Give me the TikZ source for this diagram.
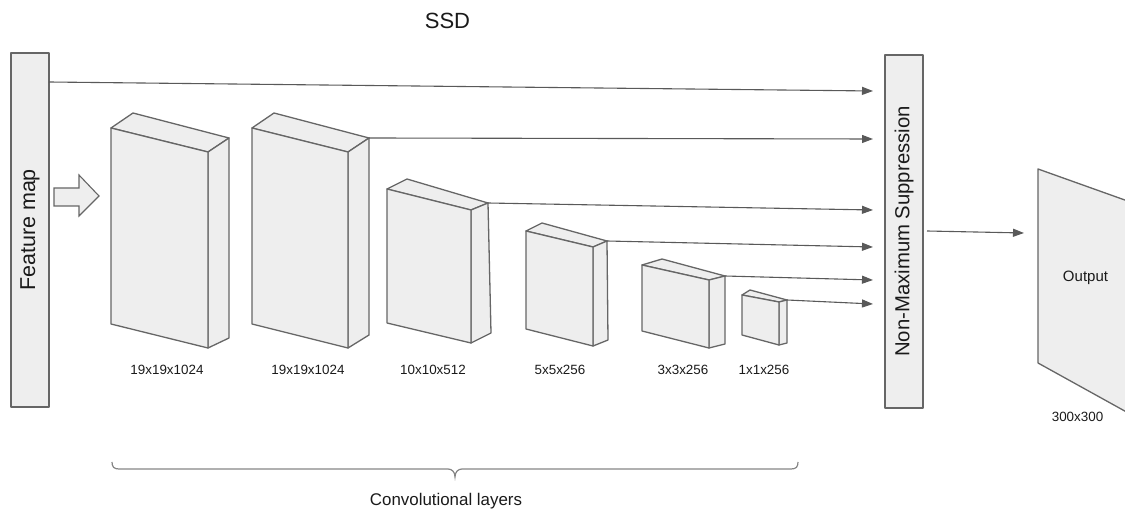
\documentclass[tikz,border=0pt]{standalone}
\usepackage{fontspec}
\setmainfont{Liberation Sans}
\usetikzlibrary{arrows.meta}

\definecolor{boxfill}{HTML}{EEEEEE}
\definecolor{boxline}{HTML}{666666}
\definecolor{wire}{HTML}{595959}
\definecolor{ink}{HTML}{1A1A1A}

\tikzset{
  panel/.style={draw=boxline, fill=boxfill, line width=1.3pt, line join=round},
  wirearrow/.style={draw=wire, line width=1.1pt, -{Triangle[length=11pt,width=8pt]}},
  blockarrow/.style={draw=boxline, fill=boxfill, line width=1.1pt, line join=miter},
  bracepath/.style={draw=boxline!80, line width=1.2pt},
  dimlabel/.style={text=ink, font=\fontsize{13.4}{15}\selectfont},
  biglabel/.style={text=ink, font=\fontsize{21.5}{24}\selectfont},
}

% cuboid: front face corners (tl,tr,br,bl), back corners (tl,tr,br)
\newcommand{\cuboid}[7]{%
  \path[panel] #5 -- #6 -- #2 -- #1 -- cycle;
  \path[panel] #2 -- #6 -- #7 -- #3 -- cycle;
  \path[panel] #1 -- #2 -- #3 -- #4 -- cycle;
}

\begin{document}
\begin{tikzpicture}[x=1pt, y=-1pt]
\useasboundingbox (0,0) rectangle (1125,510);
\clip (0,0) rectangle (1125,510);

% title
\node[text=ink, font=\fontsize{22}{26}\selectfont] (title) at (447.5,21) {SSD};

% input feature map
\node[panel, minimum width=38pt, minimum height=354pt, inner sep=0pt] (fmap) at (30,230) {};
\node[biglabel, rotate=90] (fmaptext) at (fmap.center) {Feature map};

% block arrow into the first layer
\path[blockarrow] (54,188) -- (79,188) -- (79,175) -- (99,196) -- (79,216) -- (79,206) -- (54,206) -- cycle;

% convolutional layers
\cuboid{(111,128)}{(208,152)}{(208,348)}{(111,324)}{(133,113)}{(229,138)}{(229,338)}
\cuboid{(252,128)}{(348,152)}{(348,348)}{(252,324)}{(274,113)}{(369,138)}{(369,335)}
\cuboid{(387,189)}{(471,210)}{(471,343)}{(387,323)}{(407,179)}{(488,203)}{(491,333)}
\cuboid{(526,231)}{(593,247)}{(593,346)}{(526,329)}{(542,223)}{(607,241)}{(608,340)}
\cuboid{(642,265)}{(709,280)}{(709,348)}{(642,331)}{(662,259)}{(725,276)}{(725,344)}
\cuboid{(742,295)}{(779,302)}{(779,345)}{(742,335)}{(750,290)}{(787,300)}{(787,343)}

% corners where the detection outputs leave each layer
\coordinate (f0) at (49,82);
\coordinate (c2) at (369,138);
\coordinate (c3) at (488,203);
\coordinate (c4) at (607,241);
\coordinate (c5) at (725,276);
\coordinate (c6) at (787,300);

% layer sizes
\node[dimlabel] (d1) at (167,370) {19x19x1024};
\node[dimlabel] (d2) at (308,370) {19x19x1024};
\node[dimlabel] (d3) at (433,370) {10x10x512};
\node[dimlabel] (d4) at (560,370) {5x5x256};
\node[dimlabel] (d5) at (683,370) {3x3x256};
\node[dimlabel] (d6) at (764,370) {1x1x256};

% non-maximum suppression
\node[panel, minimum width=38pt, minimum height=353pt, inner sep=0pt] (nms) at (904,231.5) {};
\node[text=ink, font=\fontsize{20.3}{24}\selectfont, rotate=90] (nmstext) at (nms.center) {Non-Maximum Suppression};

% arrow ends in front of the suppression block
\coordinate (t0) at (873,91);
\coordinate (t2) at (873,139);
\coordinate (t3) at (873,210);
\coordinate (t4) at (873,247);
\coordinate (t5) at (873,280);
\coordinate (t6) at (873,304);

\draw[wirearrow] (f0) -- (t0);
\draw[wirearrow] (c2) -- (t2);
\draw[wirearrow] (c3) -- (t3);
\draw[wirearrow] (c4) -- (t4);
\draw[wirearrow] (c5) -- (t5);
\draw[wirearrow] (c6) -- (t6);

% output image
\path[panel] (1038,169) -- (1150,209) -- (1150,425) -- (1038,363) -- cycle;
\node[text=ink, font=\fontsize{15}{18}\selectfont] (outtext) at (1085.5,278) {Output};
\node[dimlabel] (outsize) at (1077.5,417) {300x300};

\coordinate (nmsout) at (927,231);
\coordinate (outin) at (1024,233);
\draw[wirearrow] (nmsout) -- (outin);

% brace under the convolutional layers
\draw[bracepath] (112,462) .. controls (112,467) and (114,469) .. (119,469)
  -- (448,469) .. controls (452,469) and (455,472) .. (455,477)
  .. controls (455,472) and (458,469) .. (462,469)
  -- (791,469) .. controls (796,469) and (798,467) .. (798,462);
\node[text=ink, font=\fontsize{16.9}{20}\selectfont] (convlabel) at (446,501) {Convolutional layers};
\end{tikzpicture}
\end{document}
